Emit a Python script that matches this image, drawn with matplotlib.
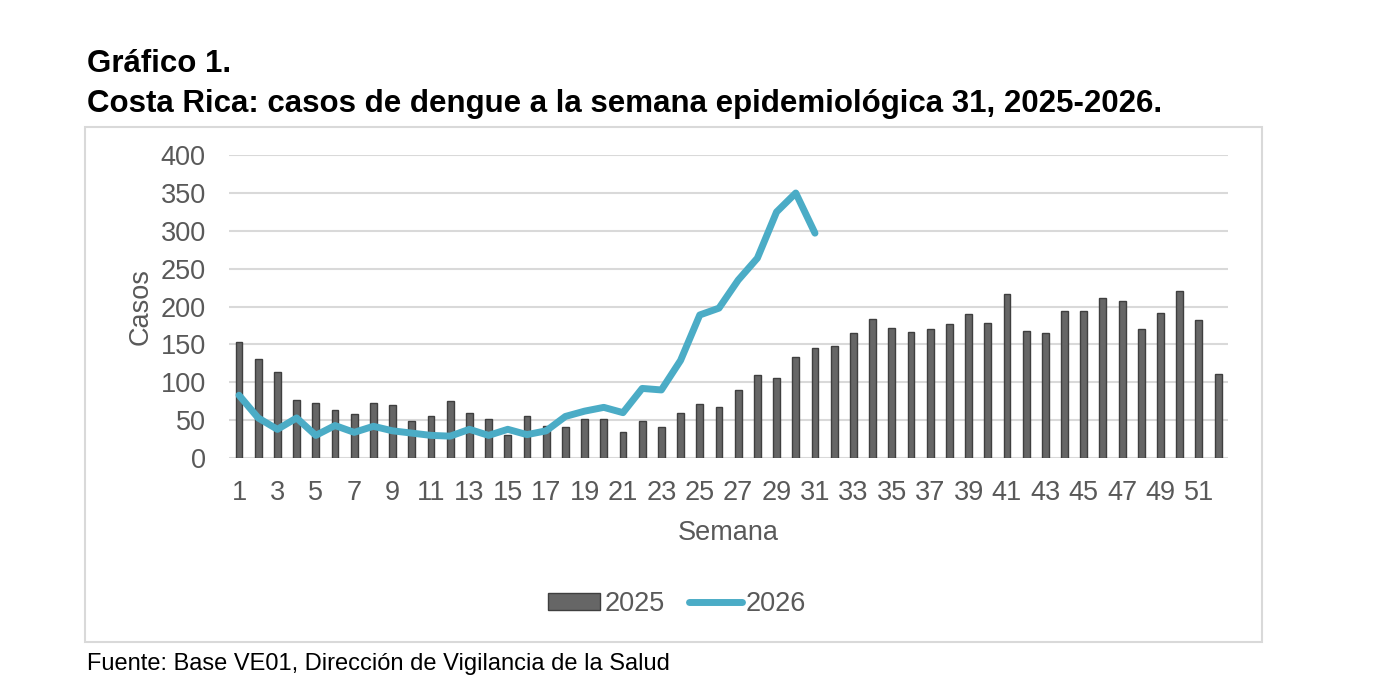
import matplotlib
matplotlib.use('Agg')
import matplotlib.pyplot as plt
from matplotlib.patches import Rectangle

plt.rcParams['font.family'] = ['Liberation Sans', 'DejaVu Sans']

# semanas epidemiologicas
weeks_2025 = list(range(1, 53))
weeks_2026 = list(range(1, 32))

cases_2025 = [153, 131, 114, 77, 73, 63, 58, 73, 70, 49, 56, 75, 60, 51, 30, 55,
              43, 41, 51, 52, 35, 49, 41, 60, 71, 68, 90, 110, 106, 134, 146, 148,
              165, 184, 172, 166, 170, 177, 190, 179, 217, 168, 165, 194, 194, 212,
              208, 170, 191, 221, 182, 111]
cases_2026 = [83, 53, 38, 53, 30, 43, 34, 42, 36, 33, 30, 29, 38, 30, 38, 31,
              36, 55, 62, 67, 60, 92, 90, 129, 189, 198, 235, 264, 325, 350, 297]

y_ticks = [0, 50, 100, 150, 200, 250, 300, 350, 400]
x_ticks = list(range(1, 53, 2))

gray_txt = '#595959'

fig = plt.figure(figsize=(13.92, 6.92), dpi=100)
ax = fig.add_axes([0.1648, 0.338, 0.7172, 0.4378])

# outer chart frame
fig.patches.append(Rectangle((0.0611, 0.0723), 0.8455, 0.7442, transform=fig.transFigure,
                             fill=False, edgecolor='#d9d9d9', linewidth=1.5, zorder=0))

bars = ax.bar(weeks_2025, cases_2025, width=0.36, color='#666666', edgecolor='#3f3f3f',
              linewidth=1, label='2025', zorder=2)
line, = ax.plot(weeks_2026, cases_2026, color='#4bacc6', linewidth=5, solid_capstyle='round',
                solid_joinstyle='round', label='2026', zorder=3)

ax.set_xlim(0.5, 52.5)
ax.set_ylim(0, 400)
ax.set_yticks(y_ticks)
ax.set_xticks(x_ticks)
ax.grid(axis='y', color='#d9d9d9', linewidth=1.5, zorder=0)
ax.set_axisbelow(True)
for s in ax.spines.values():
    s.set_visible(False)
ax.tick_params(axis='both', length=0, labelsize=19.5, labelcolor=gray_txt)
ax.tick_params(axis='y', pad=17)
ax.tick_params(axis='x', pad=16)

ax.set_ylabel('Casos', fontsize=19.5, color=gray_txt, labelpad=5)
ax.set_xlabel('Semana', fontsize=19.5, color=gray_txt, labelpad=10)

ax.legend([bars, line], ['2025', '2026'], loc='center',
          bbox_to_anchor=(677 / 1392, 1 - 604 / 692),
          bbox_transform=fig.transFigure, ncol=2, frameon=False, fontsize=19.5,
          handlelength=1.95, handleheight=0.55, handletextpad=0.15, columnspacing=0.9,
          labelcolor=gray_txt)

fig.text(0.0625, 0.896, 'Gráfico 1.', fontsize=22.5, fontweight='bold', va='baseline')
fig.text(0.0625, 0.838, 'Costa Rica: casos de dengue a la semana epidemiológica 31, 2025-2026.',
         fontsize=22.5, fontweight='bold', va='baseline')
fig.text(0.0625, 0.0318, 'Fuente: Base VE01, Dirección de Vigilancia de la Salud',
         fontsize=17, va='baseline')

fig.savefig('out.png', dpi=100)
